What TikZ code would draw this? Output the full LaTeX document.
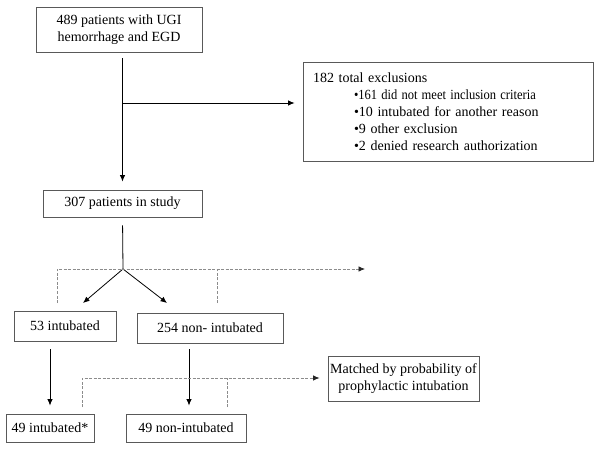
\documentclass[tikz,border=0pt]{standalone}
\usepackage{fontspec}
\usepackage{graphicx}
\setmainfont{Liberation Serif}
\usetikzlibrary{arrows.meta,calc}
\begin{document}
\begin{tikzpicture}[x=1pt,y=-1pt,
  box/.style={draw=black!65,line width=0.9pt,rectangle,inner sep=2pt,align=center,font=\fontsize{14}{17}\selectfont},
  solidarrow/.style={draw=black,line width=0.8pt,-{Latex[length=6.5pt,width=5.5pt]}},
  solidline/.style={draw=black,line width=0.8pt},
  dashline/.style={draw=black!45,line width=0.8pt,dash pattern=on 3pt off 1.5pt},
  dasharrow/.style={dashline,-{Latex[length=6.5pt,width=5.5pt,black!85,fill=black!85]}}]
\useasboundingbox (0,0) rectangle (600,449);
\fill[white] (0,0) rectangle (600,449);
% nodes
\node[box,minimum width=166pt,minimum height=45pt] (b1) at (119,29.5) {489 patients with UGI\\hemorrhage and EGD};
\node[box,text width=270pt,inner xsep=10pt,minimum height=99pt,align=left] (excl) at (448,111.5)
  {182 total exclusions\\
   \hspace*{41pt}\scalebox{0.895}[1]{•161 did not meet inclusion criteria}\\
   \hspace*{41pt}•10 intubated for another reason\\
   \hspace*{41pt}•9 other exclusion\\
   \hspace*{41pt}•2 denied research authorization};
\node[box,minimum width=159pt,minimum height=27pt] (b307) at (122.5,203.5) {307 patients in study};
\node[box,minimum width=102pt,minimum height=30pt] (b53) at (65,326) {53 intubated};
\node[box,minimum width=146pt,minimum height=30pt] (b254) at (210,328) {254 non- intubated};
\node[box,minimum width=151pt,minimum height=45pt] (match) at (403.5,378.5) {Matched by probability of\\prophylactic intubation};
\node[box,minimum width=88pt,minimum height=28pt] (b49i) at (50,428) {49 intubated*};
\node[box,minimum width=120pt,minimum height=28pt] (b49n) at (186,428) {49 non-intubated};
% coordinates
\coordinate (j1) at (123,103);
\coordinate (split) at (123,269);
\coordinate (tipL) at (83,303);
\coordinate (tipR) at (167,303);
\coordinate (dL) at (57,303);
\coordinate (dM) at (217,303);
\coordinate (dE) at (365,269);
\coordinate (eL) at (82,407);
\coordinate (eM) at (227,407);
\coordinate (eTop) at (82,378);
% connectors
\draw[solidarrow,shorten <=6pt,shorten >=8pt] (b307.north |- b1.south) -- (b307.north);
\draw[solidarrow,shorten >=8pt] (j1) -- (excl.west |- j1);
\draw[solidline,shorten <=8pt] (b307.south) -- (split);
\draw[solidarrow] (split) -- (tipL);
\draw[solidarrow] (split) -- (tipR);
\draw[dasharrow] (dL) |- (dE);
\draw[dashline] (dM) -- (dM |- dE);
\draw[solidarrow,shorten <=8pt,shorten >=8pt] (b49i.north |- b53.south) -- (b49i.north);
\draw[solidarrow,shorten <=6pt,shorten >=8pt] ([xshift=3pt]b49n.north |- b254.south) -- ([xshift=3pt]b49n.north);
\draw[dasharrow,shorten >=8pt] (eL) |- (match.west |- eTop);
\draw[dashline] (eM) -- (eM |- eTop);
\end{tikzpicture}
\end{document}
